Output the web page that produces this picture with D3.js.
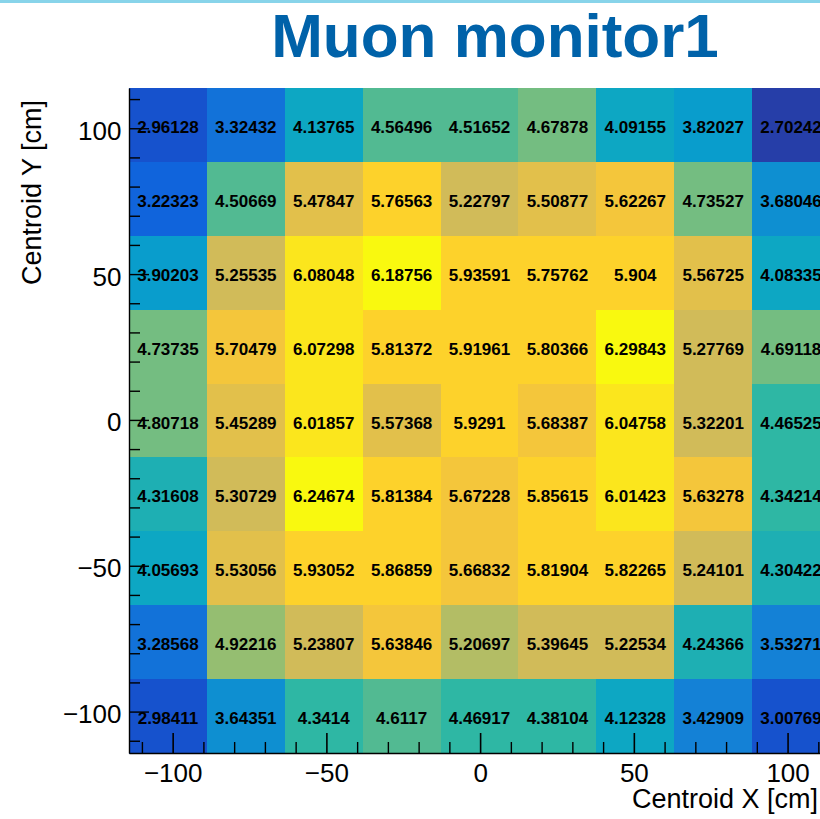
<script type='text/javascript' src='https://d3js.org/d3.v7.min.js'></script>
<style>
  body { margin: 0; background: #fff; }
  text { font-family: "Liberation Sans", Arial, Helvetica, sans-serif; }
</style>
<body></body>
<script>
// bin contents, top row (y = +100) first, left to right in x
var zRows = [
  [2.96128, 3.32432, 4.13765, 4.56496, 4.51652, 4.67878, 4.09155, 3.82027, 2.70242],
  [3.22323, 4.50669, 5.47847, 5.76563, 5.22797, 5.50877, 5.62267, 4.73527, 3.68046],
  [3.90203, 5.25535, 6.08048, 6.18756, 5.93591, 5.75762, 5.904,   5.56725, 4.08335],
  [4.73735, 5.70479, 6.07298, 5.81372, 5.91961, 5.80366, 6.29843, 5.27769, 4.69118],
  [4.80718, 5.45289, 6.01857, 5.57368, 5.9291,  5.68387, 6.04758, 5.32201, 4.46525],
  [4.31608, 5.30729, 6.24674, 5.81384, 5.67228, 5.85615, 6.01423, 5.63278, 4.34214],
  [4.05693, 5.53056, 5.93052, 5.86859, 5.66832, 5.81904, 5.82265, 5.24101, 4.30422],
  [3.28568, 4.92216, 5.23807, 5.63846, 5.20697, 5.39645, 5.22534, 4.24366, 3.53271],
  [2.98411, 3.64351, 4.3414,  4.6117,  4.46917, 4.38104, 4.12328, 3.42909, 3.00769]
];
var binLow = -114.2, binHigh = 113.8, nBins = 9;   // same binning on x and y
var majorTicks = [-100, -50, 0, 50, 100];
var minorTicks = [-110, -90, -80, -70, -60, -40, -30, -20, -10, 10, 20, 30, 40, 60, 70, 80, 90, 110];

// ROOT kBird palette
var birdStops = [0, 0.125, 0.25, 0.375, 0.5, 0.625, 0.75, 0.875, 1];
var birdR = [0.2082, 0.0592, 0.0780, 0.0232, 0.1802, 0.5301, 0.8186, 0.9956, 0.9764];
var birdG = [0.1664, 0.3599, 0.5041, 0.6419, 0.7178, 0.7492, 0.7328, 0.7862, 0.9832];
var birdB = [0.5293, 0.8684, 0.8385, 0.7914, 0.6425, 0.4662, 0.3499, 0.1968, 0.0539];

const W = 820, H = 819;
const padL = 129, padR = 830, padT = 88, padB = 753;

const svg = d3.select("body").append("svg")
  .attr("width", W).attr("height", H);

svg.append("rect").attr("x", 0).attr("y", 0).attr("width", W).attr("height", 3)
  .attr("fill", "#88d4ea");

var x = d3.scaleLinear().domain([binLow, binHigh]).range([padL, padR]);
var y = d3.scaleLinear().domain([binLow, binHigh]).range([padB, padT]);
var binW = (binHigh - binLow) / nBins;

// 255 colour gradient, like TColor::CreateGradientColorTable
var stopColor = d3.scaleLinear().domain(birdStops)
  .range(birdStops.map(function(s, i) { return d3.rgb(birdR[i]*255, birdG[i]*255, birdB[i]*255); }))
  .interpolate(d3.interpolateRgb);
var nCol = 255, palette = [];
for (var g = 0; g < birdStops.length - 1; g++) {
  var n0 = Math.floor(nCol * birdStops[g]), n1 = Math.floor(nCol * birdStops[g+1]);
  for (var c = 0; c < n1 - n0; c++)
    palette.push(stopColor(birdStops[g] + c / (n1 - n0) * (birdStops[g+1] - birdStops[g])));
}

// 20 contour levels
var flat = d3.merge(zRows);
var zExt = d3.extent(flat);
var nDiv = 20;
function zColor(z) {
  var lev = Math.floor(0.01 + (z - zExt[0]) * nDiv / (zExt[1] - zExt[0]));
  if (lev >= nDiv) lev = nDiv - 1;
  return palette[Math.min(palette.length - 1, Math.floor((lev + 0.99) * nCol / nDiv))];
}

var cells = [];
zRows.forEach(function(row, r) {
  row.forEach(function(z, i) {
    cells.push({ix: i, iy: nBins - 1 - r, z: z});
  });
});

svg.append("g").selectAll("rect").data(cells).enter().append("rect")
  .attr("x", function(d) { return x(binLow + d.ix * binW); })
  .attr("y", function(d) { return y(binLow + (d.iy + 1) * binW); })
  .attr("width", x(binLow + binW) - x(binLow) + 0.5)
  .attr("height", y(binLow) - y(binLow + binW) + 0.5)
  .attr("fill", function(d) { return zColor(d.z); })
  .attr("shape-rendering", "crispEdges");

var fmt = d3.format(".6~g");
svg.append("g").selectAll("text").data(cells).enter().append("text")
  .attr("x", function(d) { return x(binLow + (d.ix + 0.5) * binW); })
  .attr("y", function(d) { return y(binLow + (d.iy + 0.5) * binW) + 8; })
  .attr("text-anchor", "middle")
  .attr("font-size", 17).attr("font-weight", "bold").attr("fill", "#000")
  .text(function(d) { return fmt(d.z); });

// axes
function styleAxis(g, w) {
  g.selectAll("path, line").attr("stroke", "#000").attr("stroke-width", w);
  g.selectAll("text").attr("font-size", 26).attr("fill", "#000")
    .attr("font-family", "'Liberation Sans', Arial, Helvetica, sans-serif");
}
function minusFmt(d) { return d < 0 ? "\u2212" + Math.abs(d) : d; }

var xAxis = svg.append("g").attr("transform", "translate(0," + padB + ")")
  .call(d3.axisBottom(x).tickValues(majorTicks).tickSize(-20).tickSizeOuter(0).tickPadding(10.5)
    .tickFormat(minusFmt));
styleAxis(xAxis, 1.6);
svg.append("g").attr("transform", "translate(0," + padB + ")")
  .call(d3.axisBottom(x).tickValues(minorTicks).tickSize(-11).tickSizeOuter(0).tickFormat(""))
  .call(function(g) { g.select(".domain").remove(); styleAxis(g, 1.4); });

var yAxis = svg.append("g").attr("transform", "translate(" + padL + ",0)")
  .call(d3.axisLeft(y).tickValues(majorTicks).tickSize(-20).tickSizeOuter(0).tickPadding(7.5)
    .tickFormat(minusFmt));
styleAxis(yAxis, 1.4);
yAxis.selectAll("text").attr("dy", "0.42em");
svg.append("g").attr("transform", "translate(" + padL + ",0)")
  .call(d3.axisLeft(y).tickValues(minorTicks).tickSize(-11).tickSizeOuter(0).tickFormat(""))
  .call(function(g) { g.select(".domain").remove(); styleAxis(g, 1.4); });

// labels
svg.append("text").attr("x", 818).attr("y", 808)
  .attr("text-anchor", "end").attr("font-size", 27)
  .text("Centroid X [cm]");
svg.append("text").attr("transform", "translate(41,100) rotate(-90)")
  .attr("text-anchor", "end").attr("font-size", 27)
  .text("Centroid Y [cm]");

svg.append("text").attr("x", 495).attr("y", 57)
  .attr("text-anchor", "middle").attr("font-size", 62).attr("font-weight", "bold")
  .attr("fill", "#0062a9")
  .text("Muon monitor1");
</script>
